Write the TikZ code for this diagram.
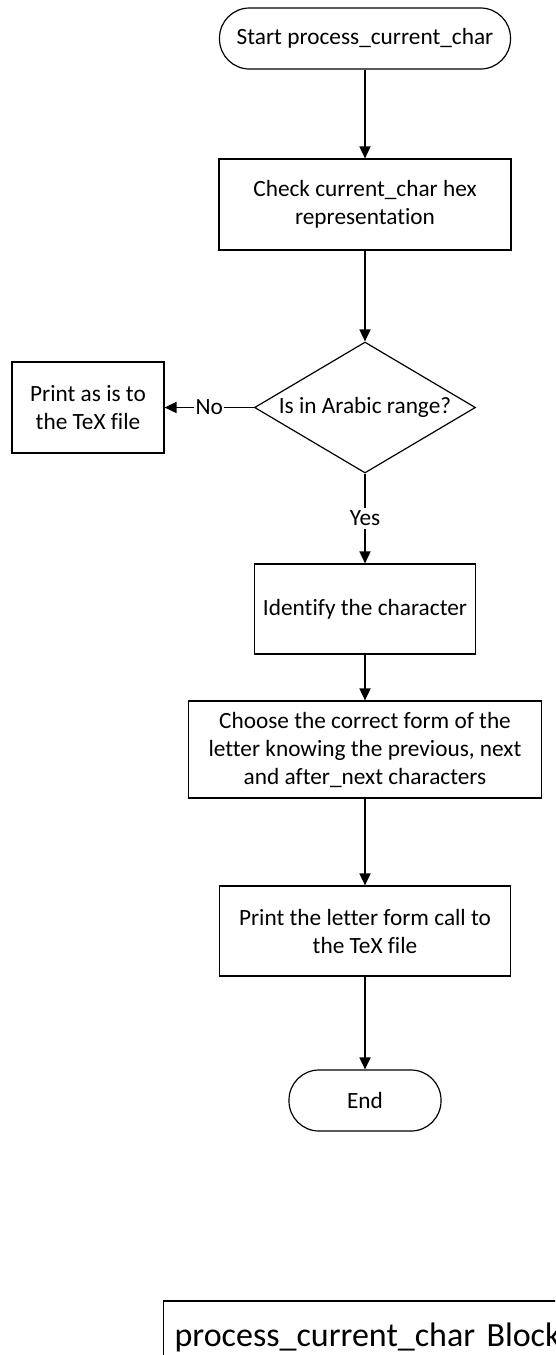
\documentclass[tikz,border=0pt]{standalone}
\usepackage{fontspec}
\setmainfont[Ligatures=NoCommon]{Carlito}
\usetikzlibrary{shapes.geometric, arrows.meta}
\tikzstyle{arrow} = [line width=1.8pt,-{Triangle[length=12pt,width=11pt]}]
\tikzstyle{terminal} = [rectangle, draw, line width=1.2pt, rounded corners=30pt, minimum height=61pt, inner sep=0pt]
\tikzstyle{process} = [rectangle, draw, line width=1.2pt, inner sep=0pt, align=center]
\tikzstyle{decision} = [diamond, draw, line width=1.2pt, aspect=1.69, minimum width=221pt, minimum height=131pt, inner sep=0pt]
\tikzstyle{edgelabel} = [fill=white, inner xsep=1.5pt, inner ysep=3pt]

\begin{document}
\begin{tikzpicture}[x=1pt, y=-1pt, font=\fontsize{23.3pt}{28pt}\selectfont]
    \useasboundingbox (0,0) rectangle (555,1355);
    \clip (0,0) rectangle (555,1355);

    % Main column
    \node[terminal, minimum width=291pt] (start) at (365,38.5) {Start process\_current\_char};
    \node[process, minimum width=292pt, minimum height=91pt] (check) at (365,204.5) {Check current\_char hex\\representation};
    \node[decision] (decide) at (365,407.5) {Is in Arabic range?};
    \node[process, minimum width=221pt, minimum height=90pt] (identify) at (365,609) {Identify the character};
    \node[process, minimum width=353pt, minimum height=97pt] (choose) at (365,749.5) {Choose the correct form of the\\letter knowing the previous, next\\and after\_next characters};
    \node[process, minimum width=291pt, minimum height=90pt] (printform) at (365,931) {Print the letter form call to\\the TeX file};
    \node[terminal, minimum width=152pt] (stop) at (365,1100.5) {End};

    % Side branch
    \node[process, minimum width=152pt, minimum height=91pt] (printraw) at (88,407.5) {Print as is to\\the TeX file};

    % Connectors
    \draw [arrow] (start) -- (check);
    \draw [arrow] (check) -- (decide);
    \draw [arrow] (decide) -- node[edgelabel] {No} (printraw);
    \draw [arrow] (decide) -- node[edgelabel] {Yes} (identify);
    \draw [arrow] (identify) -- (choose);
    \draw [arrow] (choose) -- (printform);
    \draw [arrow] (printform) -- (stop);

    % Block title
    \node[draw, line width=1.2pt, anchor=west, minimum height=72pt, text width=400pt, align=left, inner xsep=11pt, font=\fontsize{34pt}{41pt}\selectfont] (blocktitle) at (163,1337) {process\_current\_char Block};
\end{tikzpicture}
\end{document}
